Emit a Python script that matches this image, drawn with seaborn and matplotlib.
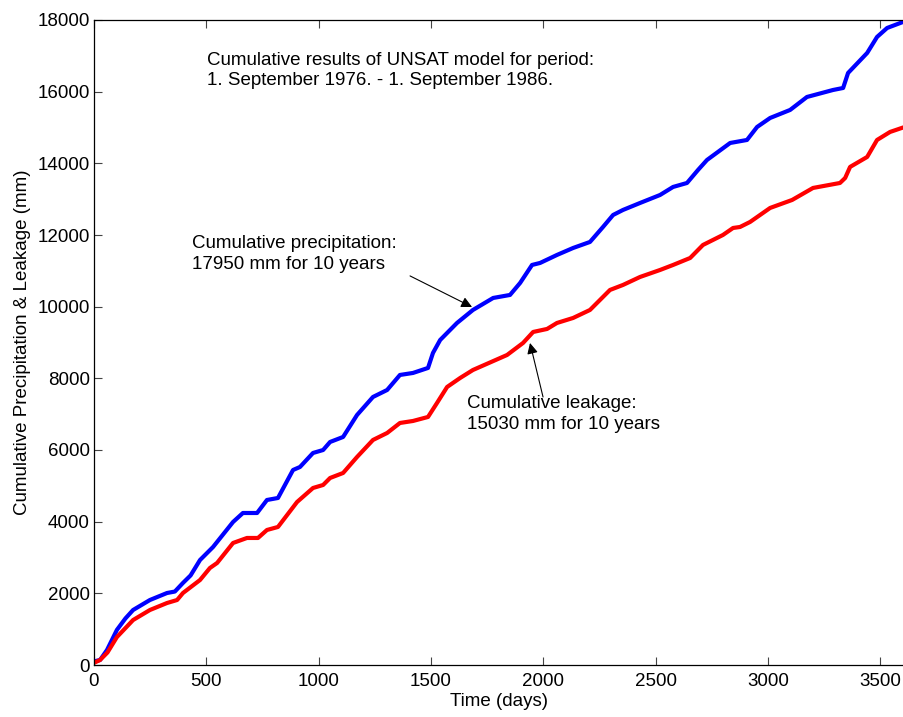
import matplotlib
matplotlib.use("Agg")
import matplotlib.pyplot as plt
import seaborn as sns
import pandas as pd

# Cumulative precipitation (blue)
precip_days = [0, 27, 58, 102, 140, 174, 249, 325, 360, 396, 430, 472, 530, 619, 663,
               726, 770, 819, 886, 917, 975, 1020, 1051, 1109, 1171, 1242, 1305, 1362,
               1420, 1487, 1509, 1541, 1616, 1687, 1777, 1852, 1897, 1950, 1986, 2061,
               2133, 2208, 2266, 2311, 2355, 2431, 2520, 2578, 2640, 2689, 2729, 2832,
               2907, 2952, 3010, 3099, 3174, 3290, 3335, 3357, 3442, 3486, 3531, 3602, 3650]
precip_mm = [100, 140, 420, 980, 1300, 1535, 1814, 2009, 2050, 2290, 2500, 2930, 3293,
             3991, 4242, 4242, 4605, 4661, 5442, 5526, 5917, 6000, 6224, 6364, 6977, 7480,
             7675, 8094, 8150, 8290, 8708, 9070, 9545, 9908, 10243, 10327, 10662, 11164,
             11220, 11443, 11638, 11806, 12224, 12559, 12699, 12894, 13117, 13341, 13452,
             13815, 14094, 14568, 14652, 15015, 15266, 15490, 15852, 16047, 16103, 16522,
             17080, 17527, 17778, 17946, 17950]

# Cumulative leakage (red)
leak_days = [0, 27, 60, 102, 174, 249, 325, 370, 396, 472, 516, 548, 619, 681, 730, 770,
             819, 904, 975, 1020, 1051, 1109, 1171, 1242, 1305, 1362, 1420, 1487, 1527,
             1572, 1630, 1687, 1839, 1910, 1955, 2017, 2061, 2133, 2208, 2297, 2355, 2431,
             2520, 2578, 2654, 2711, 2800, 2845, 2876, 2921, 3010, 3108, 3201, 3321, 3344,
             3366, 3442, 3486, 3544, 3602, 3650]
leak_mm = [60, 140, 350, 780, 1255, 1535, 1730, 1814, 2009, 2372, 2707, 2847, 3405, 3545,
           3545, 3768, 3852, 4549, 4940, 5024, 5219, 5359, 5805, 6280, 6475, 6754, 6810,
           6922, 7312, 7759, 8010, 8233, 8652, 8987, 9294, 9378, 9545, 9685, 9908, 10466,
           10606, 10829, 11024, 11164, 11359, 11722, 12001, 12196, 12224, 12365, 12755,
           12978, 13313, 13452, 13591, 13900, 14178, 14652, 14876, 15000, 15030]

x_ticks = [0, 500, 1000, 1500, 2000, 2500, 3000, 3500]
y_ticks = [0, 2000, 4000, 6000, 8000, 10000, 12000, 14000, 16000, 18000]

title_text = "Cumulative results of UNSAT model for period:\n1. September 1976. - 1. September 1986."
precip_label = "Cumulative precipitation:\n17950 mm for 10 years"
leak_label = "Cumulative leakage:\n15030 mm for 10 years"

df = pd.concat([
    pd.DataFrame({"Time": precip_days, "Value": precip_mm, "Series": "Precipitation"}),
    pd.DataFrame({"Time": leak_days, "Value": leak_mm, "Series": "Leakage"}),
])

sns.set_theme(style="white")
plt.rcParams["font.family"] = ["Liberation Sans", "DejaVu Sans"]
plt.rcParams["text.color"] = "black"
plt.rcParams["axes.labelcolor"] = "black"

FS = 13.5

fig = plt.figure(figsize=(9.04, 7.17), dpi=100)
ax = fig.add_axes([94 / 904, 52 / 717, 1 - 94 / 904, 645 / 717])

sns.lineplot(data=df, x="Time", y="Value", hue="Series",
             palette={"Precipitation": "#0000ff", "Leakage": "#ff0000"},
             estimator=None, sort=False, linewidth=3, legend=False, ax=ax)

ax.set_xlim(0, 3606)
ax.set_ylim(0, 18000)
ax.set_xticks(x_ticks)
ax.set_yticks(y_ticks)
ax.set_xticklabels([str(t) for t in x_ticks], fontsize=FS)
ax.set_yticklabels([str(t) for t in y_ticks], fontsize=FS)
ax.tick_params(direction="in", length=6, width=0.8, color="#444444",
               top=True, bottom=True, left=True, right=False, pad=3, labelcolor="black")
ax.tick_params(axis="x", pad=6)
for side in ["left", "bottom", "top"]:
    ax.spines[side].set_color("black")
    ax.spines[side].set_linewidth(0.9)
ax.spines["right"].set_visible(False)

ax.set_xlabel("Time (days)", fontsize=FS, labelpad=2)
ax.set_ylabel("Cumulative Precipitation & Leakage (mm)", fontsize=FS, labelpad=5)

ax.text(503, 16592, title_text, fontsize=FS, ha="left", va="center", linespacing=1.3)
ax.text(436, 11471, precip_label, fontsize=FS, ha="left", va="center", linespacing=1.3)
ax.text(1661, 7005, leak_label, fontsize=FS, ha="left", va="center", linespacing=1.3)

arrow = dict(arrowstyle="-|>", color="black", lw=0.8, mutation_scale=16, shrinkA=0, shrinkB=0)
ax.annotate("", xy=(1683, 9991), xytext=(1407, 10858), arrowprops=arrow)
ax.annotate("", xy=(1941, 8987), xytext=(1999, 7480), arrowprops=arrow)

fig.savefig("out.png", dpi=100)
